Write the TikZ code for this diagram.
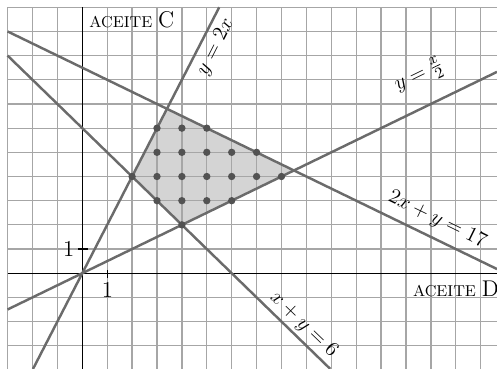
\documentclass[tikz,border=0pt]{standalone}
\begin{document}
\begin{tikzpicture}[x=0.5cm, y=0.4855cm,
    gridline/.style={draw=black!35, line width=0.7pt},
    recta/.style={draw=black!58, line width=1.4pt},
    eje/.style={draw=black, line width=0.7pt},
    punto/.style={circle, fill=black!68, inner sep=0pt, minimum size=4.2pt},
    etiq/.style={font=\fontsize{13}{13}\selectfont, inner sep=0pt}]
    \useasboundingbox (-3.305,-3.958) rectangle (16.655,11.30);

    % vertices of the region
    \coordinate (P) at (2,4);
    \coordinate (Q) at (3.4,6.8);
    \coordinate (R) at (8.5,4.25);
    \coordinate (S) at (4,2);
    \fill[black!17] (P) -- (Q) -- (R) -- (S) -- cycle;

    % grid
    \foreach \i in {-3,...,16}
        \draw[gridline] (\i,-3.958) -- (\i,11);
    \foreach \j in {-3,...,11}
        \draw[gridline] (-3,\j) -- (16.655,\j);

    % axes
    \coordinate (O) at (0,0);
    \coordinate (xizq) at (-3,0);
    \coordinate (xder) at (16.655,0);
    \coordinate (ysup) at (0,11);
    \coordinate (yinf) at (0,-3.958);
    \draw[eje] (xizq) -- (xder);
    \draw[eje] (yinf) -- (ysup);
    \draw[eje] (1,0.14) -- (1,-0.19);
    \draw[eje] (-0.16,1) -- (0.24,1);
    \node[etiq] (unox) at (1.01,-0.7) {1};
    \node[etiq] (unoy) at (-0.55,1) {1};

    % lines
    \coordinate (a1) at (-1.979,-3.958);
    \coordinate (a2) at (5.5,11);
    \coordinate (b1) at (-3,-1.5);
    \coordinate (b2) at (16.655,8.3275);
    \coordinate (c1) at (-3,10);
    \coordinate (c2) at (16.655,0.1725);
    \coordinate (d1) at (-3,9);
    \coordinate (d2) at (9.958,-3.958);
    \draw[recta] (a1) -- (O) -- (a2);
    \draw[recta] (b1) -- (O) -- (b2);
    \draw[recta] (c1) -- (Q) -- (R) -- (c2);
    \draw[recta] (d1) -- (P) -- (S) -- (d2);

    % integer points
    \foreach \x/\y in {4/2, 3/3, 4/3, 5/3, 6/3, 2/4, 3/4, 4/4, 5/4, 6/4, 7/4, 8/4,
                       3/5, 4/5, 5/5, 6/5, 7/5, 3/6, 4/6, 5/6}
        \node[punto] (p\x\y) at (\x,\y) {};

    % labels
    \node[anchor=base west, inner sep=0pt] (ejeC) at (0.27,10.15)
        {{\fontsize{9}{9}\selectfont ACEITE} {\fontsize{13}{13}\selectfont C}};
    \node[anchor=base west, inner sep=0pt] (ejeD) at (13.27,-0.98)
        {{\fontsize{9}{9}\selectfont ACEITE} {\fontsize{13}{13}\selectfont D}};
    \node[etiq, rotate=63] (la) at (5.36,9.35) {$y = 2x$};
    \node[etiq, rotate=26] (lb) at (13.54,8.16) {$y = \frac{x}{2}$};
    \node[etiq, rotate=-26] (lc) at (14.25,2.2) {$2x + y = 17$};
    \node[etiq, rotate=-44] (ld) at (8.89,-2.14) {$x + y = 6$};
\end{tikzpicture}
\end{document}
